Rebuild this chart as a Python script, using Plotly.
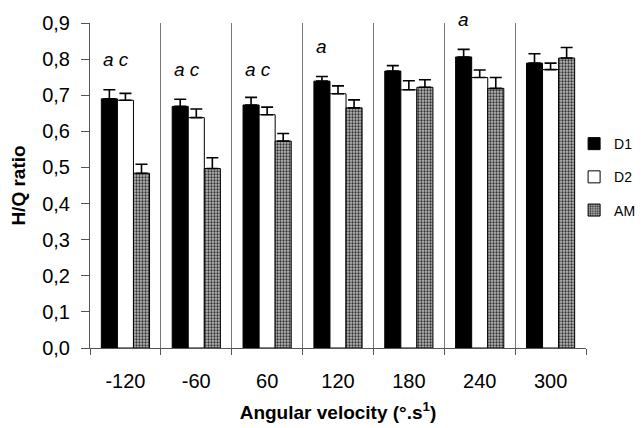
import plotly.graph_objects as go

categories = ["-120", "-60", "60", "120", "180", "240", "300"]
d1 = [0.690, 0.669, 0.673, 0.739, 0.767, 0.806, 0.789]
d1_err = [0.025, 0.020, 0.021, 0.013, 0.015, 0.021, 0.026]
d2 = [0.686, 0.638, 0.646, 0.704, 0.715, 0.749, 0.771]
d2_err = [0.019, 0.024, 0.021, 0.022, 0.025, 0.021, 0.018]
am = [0.484, 0.497, 0.573, 0.665, 0.722, 0.719, 0.803]
am_err = [0.025, 0.030, 0.021, 0.022, 0.021, 0.030, 0.029]

sig_cats = ["-120", "-60", "60", "120", "240"]
sig_text = ["a c", "a c", "a c", "a", "a"]
sig_y = [0.800, 0.772, 0.772, 0.835, 0.911]

FONT = "Liberation Sans, Arial, sans-serif"
YMAX = 0.9
xpos = list(range(len(categories)))

def err(vals):
    return dict(type="data", array=vals, arrayminus=[0] * len(vals), symmetric=False,
                color="black", thickness=1.6, width=6)

fig = go.Figure()
fig.add_trace(go.Bar(name="D1", x=xpos, y=d1, error_y=err(d1_err),
                     marker=dict(color="black", line=dict(color="black", width=1)),
                     legendgroup="g1"))
fig.add_trace(go.Bar(name="D2", x=xpos, y=d2, error_y=err(d2_err),
                     marker=dict(color="white", line=dict(color="black", width=1)),
                     legendgroup="g2"))
fig.add_trace(go.Bar(name="AM", x=xpos, y=am, error_y=err(am_err),
                     marker=dict(color="#b8b8b8", line=dict(color="black", width=1),
                                 pattern=dict(shape=".", fgcolor="#333333", bgcolor="#b8b8b8",
                                              size=3, solidity=0.45)),
                     legendgroup="g3"))

for c, t, yv in zip(sig_cats, sig_text, sig_y):
    fig.add_annotation(x=categories.index(c), xref="x", y=yv / YMAX, yref="paper", text=t,
                       showarrow=False, xanchor="left", yanchor="middle", xshift=-24,
                       font=dict(family=FONT, size=19, color="black", style="italic"))

# page body has an 8px default margin; figure is sized so it ends at the window edge
fig.update_layout(
    template="none",
    width=636, height=420,
    margin=dict(l=82, r=58, t=15, b=80, autoexpand=False),
    paper_bgcolor="white", plot_bgcolor="white",
    separators=",.",
    barmode="group", bargap=0.32, bargroupgap=0,
    font=dict(family=FONT, size=20, color="black"),
    showlegend=True,
    legend=dict(x=0.976, xanchor="left", y=0.526, yanchor="middle",
                font=dict(family=FONT, size=14, color="black"),
                tracegroupgap=12, traceorder="grouped", bgcolor="rgba(0,0,0,0)",
                borderwidth=0, itemwidth=30),
    xaxis=dict(range=[-0.5, len(categories) - 0.5], tickmode="array", tickvals=xpos,
               ticktext=categories, ticks="", showgrid=False, zeroline=False, automargin=False,
               showline=True, linecolor="#555", linewidth=1,
               minor=dict(tickmode="linear", tick0=-0.5, dtick=1, ticks="outside", ticklen=6,
                          tickcolor="#555", showgrid=True, gridcolor="#777", gridwidth=1),
               ticklabelstandoff=15,
               title=dict(text="<b>Angular velocity (°.s<sup>1</sup>)</b>",
                          font=dict(family=FONT, size=19), standoff=14)),
    yaxis=dict(range=[0, YMAX], dtick=0.1, tickformat=".1f", showgrid=False, zeroline=False,
               automargin=False,
               ticks="outside", ticklen=8, tickcolor="#555", showline=True, linecolor="#555",
               linewidth=1, ticklabelstandoff=7,
               title=dict(text="<b>H/Q ratio</b>", font=dict(family=FONT, size=19), standoff=16)),
)

fig.write_html("out.html")
